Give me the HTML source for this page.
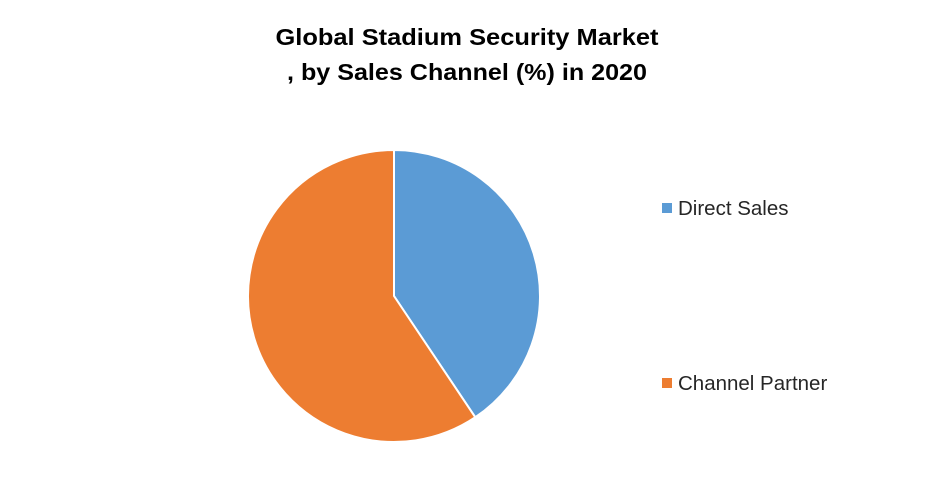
<!DOCTYPE html>
<html><head><meta charset="utf-8"><style>
html,body{margin:0;padding:0;background:#fff;width:933px;height:484px;overflow:hidden}
svg{display:block}
</style></head><body>
<svg width="933" height="484">
<text x="467" y="45" text-anchor="middle" font-family="Liberation Sans, sans-serif" font-weight="bold" font-size="23" fill="#000" textLength="383" lengthAdjust="spacingAndGlyphs">Global Stadium Security Market</text>
<text x="467" y="80" text-anchor="middle" font-family="Liberation Sans, sans-serif" font-weight="bold" font-size="23" fill="#000" textLength="360" lengthAdjust="spacingAndGlyphs">, by Sales Channel (%) in 2020</text>
<g id="slices"></g>
<g id="legend"></g>
</svg>
<script>
const categories = ["Direct Sales", "Channel Partner"];
const values = [40.6, 59.4];
const colors = ["#5b9bd5", "#ed7d31"];
const cx = 394, cy = 296, r = 146;
const ns = "http://www.w3.org/2000/svg";
const g = document.getElementById('slices');
const total = values.reduce((a,b)=>a+b,0);
let a0 = 0;
function pt(a){return [cx + r*Math.sin(a), cy - r*Math.cos(a)];}
values.forEach((v,i)=>{
  const a1 = a0 + v/total*2*Math.PI;
  const p0 = pt(a0), p1 = pt(a1);
  const large = (a1-a0) > Math.PI ? 1 : 0;
  const path = document.createElementNS(ns,'path');
  path.setAttribute('d', `M${cx},${cy} L${p0[0]},${p0[1]} A${r},${r} 0 ${large} 1 ${p1[0]},${p1[1]} Z`);
  path.setAttribute('fill', colors[i]);
  path.setAttribute('stroke', '#fff');
  path.setAttribute('stroke-width', '2');
  
  
  g.appendChild(path);
  a0 = a1;
});
const lg = document.getElementById('legend');
const ly = [208, 383];
categories.forEach((c,i)=>{
  const rect = document.createElementNS(ns,'rect');
  rect.setAttribute('x', 662); rect.setAttribute('y', ly[i]-5);
  rect.setAttribute('width', 10); rect.setAttribute('height', 10);
  rect.setAttribute('fill', colors[i]);
  
  
  lg.appendChild(rect);
  const t = document.createElementNS(ns,'text');
  t.setAttribute('x', 678); t.setAttribute('y', ly[i]+7);
  t.setAttribute('font-family', 'Liberation Sans, sans-serif');
  t.setAttribute('font-size', '20.5'); t.setAttribute('fill', '#262626');
  t.textContent = c;
  
  
  lg.appendChild(t);
});
</script>
</body></html>
